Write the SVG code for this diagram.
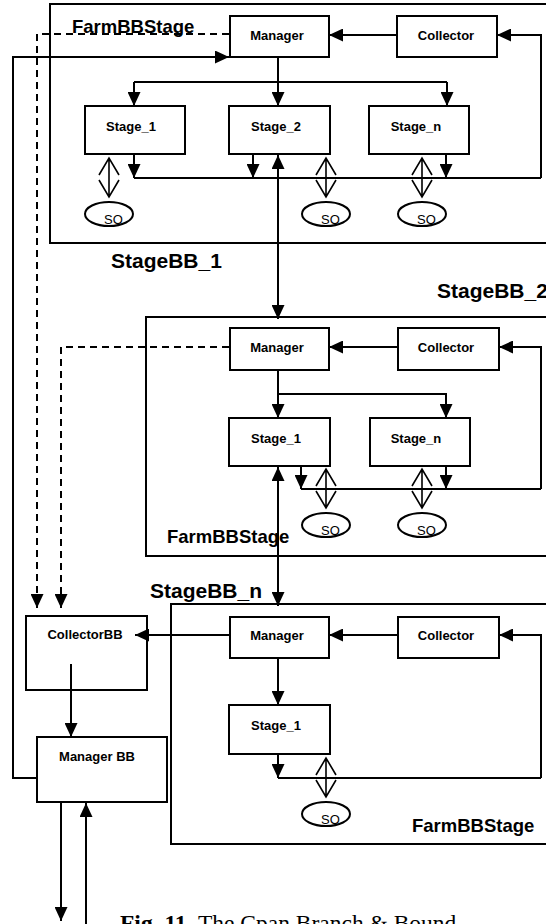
<svg xmlns="http://www.w3.org/2000/svg" width="546" height="924" viewBox="0 0 546 924">
  <style>
    .box { fill: #fff; stroke: #000; stroke-width: 2; }
    .frame { fill: none; stroke: #000; stroke-width: 2; }
    .ln { fill: none; stroke: #000; stroke-width: 2; }
    .arr { fill: none; stroke: #000; stroke-width: 2; marker-end: url(#ah); }
    .arr2 { fill: none; stroke: #000; stroke-width: 2; marker-start: url(#ahs); marker-end: url(#ah); }
    .dash { fill: none; stroke: #000; stroke-width: 2; stroke-dasharray: 7 5; }
    .dbl { fill: none; stroke: #000; stroke-width: 1.6; }
    .so { fill: #fff; stroke: #000; stroke-width: 2; }
    .lbl { font-family: "Liberation Sans", Arial, sans-serif; font-weight: bold; font-size: 13px; fill: #000; }
    .big { font-family: "Liberation Sans", Arial, sans-serif; font-weight: bold; font-size: 21px; fill: #000; }
    .farm { font-family: "Liberation Sans", Arial, sans-serif; font-weight: bold; font-size: 18.5px; fill: #000; }
    .sot { font-family: "Liberation Sans", Arial, sans-serif; font-size: 13px; fill: #000; }
    .cap { font-family: "Liberation Serif", "Times New Roman", serif; font-size: 23.5px; fill: #000; }
  </style>
  <defs>
    <marker id="ah" markerUnits="userSpaceOnUse" markerWidth="14" markerHeight="13" refX="14" refY="6.5" orient="auto">
      <path d="M0,0 L14,6.5 L0,13 Z" fill="#000"/>
    </marker>
    <marker id="ahs" markerUnits="userSpaceOnUse" markerWidth="14" markerHeight="13" refX="0" refY="6.5" orient="auto">
      <path d="M14,0 L0,6.5 L14,13 Z" fill="#000"/>
    </marker>
    <!-- open double-headed arrow between a stage line and its SO -->
    <g id="dblarrow">
      <path class="dbl" d="M0,0 L0,39 M-10,17 L0,0 L10,17 M-10,22 L0,39 L10,22"/>
    </g>
  </defs>

  <!-- building-block frames -->
  <g id="stagebb1-frame">
    <rect class="frame" x="50" y="4" width="520" height="239"/>
    <text class="big" x="111" y="268">StageBB_1</text>
  </g>
  <g id="stagebb2-frame">
    <rect class="frame" x="146" y="317" width="420" height="239"/>
    <text class="big" x="437" y="298">StageBB_2</text>
  </g>
  <g id="stagebbn-frame">
    <rect class="frame" x="171" y="604" width="400" height="240"/>
    <text class="big" x="150" y="598">StageBB_n</text>
  </g>

  <!-- connectors -->
  <g id="connectors">
    <!-- dashed links to CollectorBB -->
    <polyline class="dash" points="229,34 37,34 37,600"/>
    <line class="arr" x1="37" y1="594" x2="37" y2="608"/>
    <polyline class="dash" points="229,347 61,347 61,600"/>
    <line class="arr" x1="61" y1="594" x2="61" y2="608"/>

    <!-- feedback from Manager BB -->
    <polyline class="arr" points="37,778 13,778 13,57 229,57"/>

    <!-- StageBB_1 -->
    <line class="arr" x1="397" y1="35" x2="329" y2="35"/>
    <polyline class="arr" points="541,178 541,35 497,35"/>
    <line class="arr" x1="278" y1="57" x2="278" y2="106"/>
    <polyline class="ln" points="134,82 447,82"/>
    <line class="arr" x1="134" y1="82" x2="134" y2="106"/>
    <line class="arr" x1="447" y1="82" x2="447" y2="106"/>
    <line class="ln" x1="134" y1="178" x2="541" y2="178"/>
    <line class="arr" x1="134" y1="154" x2="134" y2="178"/>
    <line class="arr" x1="253" y1="154" x2="253" y2="178"/>
    <line class="arr" x1="446" y1="154" x2="446" y2="178"/>
    <use href="#dblarrow" x="109" y="158"/>
    <use href="#dblarrow" x="326" y="158"/>
    <use href="#dblarrow" x="422" y="158"/>

    <!-- StageBB_1 / StageBB_2 link -->
    <line class="arr2" x1="278" y1="155" x2="278" y2="319"/>

    <!-- StageBB_2 -->
    <line class="arr" x1="398" y1="347" x2="329" y2="347"/>
    <polyline class="arr" points="541,489 541,347 499,347"/>
    <line class="arr" x1="278" y1="370" x2="278" y2="418"/>
    <polyline class="arr" points="278,394 446,394 446,418"/>
    <line class="ln" x1="301" y1="489" x2="541" y2="489"/>
    <line class="arr" x1="301" y1="466" x2="301" y2="489"/>
    <line class="arr" x1="446" y1="466" x2="446" y2="489"/>
    <use href="#dblarrow" x="326" y="469"/>
    <use href="#dblarrow" x="422" y="469"/>

    <!-- StageBB_2 / StageBB_n link -->
    <line class="arr2" x1="278" y1="467" x2="278" y2="606"/>

    <!-- StageBB_n -->
    <line class="arr" x1="230" y1="635" x2="135" y2="635"/>
    <line class="arr" x1="398" y1="635" x2="329" y2="635"/>
    <polyline class="arr" points="541,778 541,635 499,635"/>
    <line class="arr" x1="278" y1="658" x2="278" y2="705"/>
    <line class="ln" x1="278" y1="778" x2="541" y2="778"/>
    <line class="arr" x1="278" y1="754" x2="278" y2="778"/>
    <use href="#dblarrow" x="326" y="758"/>

    <!-- CollectorBB to Manager BB, Manager BB I/O -->
    <line class="arr" x1="71" y1="664" x2="71" y2="737"/>
    <line class="arr" x1="61" y1="802" x2="61" y2="921"/>
    <line class="arr" x1="86" y1="924" x2="86" y2="803"/>
  </g>

  <!-- StageBB_1 nodes -->
  <g id="farm1-label"><text class="farm" x="72" y="33">FarmBBStage</text></g>
  <g id="manager1"><rect class="box" x="230" y="16" width="99" height="41"/><text class="lbl" x="277" y="40" text-anchor="middle">Manager</text></g>
  <g id="collector1"><rect class="box" x="397" y="16" width="100" height="41"/><text class="lbl" x="446" y="40" text-anchor="middle">Collector</text></g>
  <g id="stage1-1"><rect class="box" x="85" y="106" width="100" height="48"/><text class="lbl" x="131" y="131" text-anchor="middle">Stage_1</text></g>
  <g id="stage1-2"><rect class="box" x="229" y="106" width="101" height="48"/><text class="lbl" x="276" y="131" text-anchor="middle">Stage_2</text></g>
  <g id="stage1-n"><rect class="box" x="369" y="106" width="100" height="48"/><text class="lbl" x="416" y="131" text-anchor="middle">Stage_n</text></g>
  <g id="so1-1"><ellipse class="so" cx="109" cy="214" rx="24" ry="12"/><text class="sot" x="104" y="224">SO</text></g>
  <g id="so1-2"><ellipse class="so" cx="326" cy="214" rx="24" ry="12"/><text class="sot" x="321" y="224">SO</text></g>
  <g id="so1-n"><ellipse class="so" cx="422" cy="214" rx="24" ry="12"/><text class="sot" x="417" y="224">SO</text></g>

  <!-- StageBB_2 nodes -->
  <g id="manager2"><rect class="box" x="230" y="328" width="99" height="42"/><text class="lbl" x="277" y="352" text-anchor="middle">Manager</text></g>
  <g id="collector2"><rect class="box" x="398" y="328" width="101" height="42"/><text class="lbl" x="446" y="352" text-anchor="middle">Collector</text></g>
  <g id="stage2-1"><rect class="box" x="229" y="418" width="101" height="48"/><text class="lbl" x="276" y="443" text-anchor="middle">Stage_1</text></g>
  <g id="stage2-n"><rect class="box" x="370" y="418" width="100" height="48"/><text class="lbl" x="416" y="443" text-anchor="middle">Stage_n</text></g>
  <g id="so2-1"><ellipse class="so" cx="326" cy="525" rx="24" ry="12"/><text class="sot" x="321" y="535">SO</text></g>
  <g id="so2-n"><ellipse class="so" cx="422" cy="525" rx="24" ry="12"/><text class="sot" x="417" y="535">SO</text></g>
  <g id="farm2-label"><text class="farm" x="167" y="543">FarmBBStage</text></g>

  <!-- StageBB_n nodes -->
  <g id="managern"><rect class="box" x="230" y="617" width="99" height="41"/><text class="lbl" x="277" y="640" text-anchor="middle">Manager</text></g>
  <g id="collectorn"><rect class="box" x="398" y="617" width="101" height="41"/><text class="lbl" x="446" y="640" text-anchor="middle">Collector</text></g>
  <g id="stagen-1"><rect class="box" x="229" y="705" width="101" height="49"/><text class="lbl" x="276" y="730" text-anchor="middle">Stage_1</text></g>
  <g id="son-1"><ellipse class="so" cx="326" cy="814" rx="24" ry="12"/><text class="sot" x="321" y="824">SO</text></g>
  <g id="farmn-label"><text class="farm" x="412" y="832">FarmBBStage</text></g>

  <!-- branch & bound blocks -->
  <g id="collectorbb"><rect class="box" x="26" y="616" width="121" height="74" fill-opacity="0"/><text class="lbl" x="85" y="639" text-anchor="middle">CollectorBB</text></g>
  <g id="managerbb"><rect class="box" x="37" y="737" width="130" height="65"/><text class="lbl" x="97" y="761" text-anchor="middle">Manager BB</text></g>

  <!-- caption -->
  <g id="caption"><text class="cap" x="120" y="931"><tspan font-weight="bold">Fig. 11.</tspan> The Cpan Branch &amp; Bound</text></g>
</svg>
